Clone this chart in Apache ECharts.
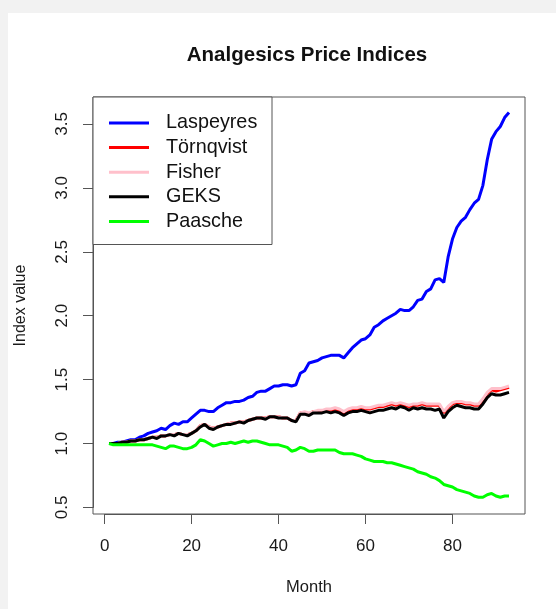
<!DOCTYPE html>
<html>
<head>
<meta charset="utf-8">
<script src="https://cdn.jsdelivr.net/npm/echarts@6/dist/echarts.min.js"></script>
<style>
html,body{margin:0;padding:0;background:#f2f2f2;}
#chart{width:556px;height:609px;}
</style>
</head>
<body>
<div id="chart"></div>
<script>
// ---- data ----
const months = Array.from({length: 93}, (_, i) => i + 1);
const seriesNames = ['Laspeyres', 'Törnqvist', 'Fisher', 'GEKS', 'Paasche'];
const laspeyres = [1.00,1.00,1.01,1.01,1.02,1.03,1.03,1.05,1.06,1.08,1.09,1.10,1.12,1.11,1.14,1.16,1.15,1.17,1.17,1.20,
  1.23,1.26,1.26,1.25,1.25,1.28,1.30,1.32,1.32,1.33,1.33,1.34,1.36,1.37,1.40,1.41,1.41,1.43,1.45,1.45,
  1.46,1.46,1.45,1.46,1.55,1.57,1.63,1.64,1.65,1.67,1.68,1.69,1.69,1.69,1.67,1.71,1.75,1.78,1.81,1.82,
  1.85,1.91,1.93,1.96,1.98,2.00,2.02,2.05,2.04,2.04,2.07,2.12,2.13,2.19,2.21,2.28,2.29,2.26,2.46,2.60,
  2.69,2.74,2.77,2.83,2.88,2.91,3.02,3.22,3.38,3.44,3.48,3.55,3.59];
const tornqvist = [1.00,1.00,1.00,1.01,1.01,1.02,1.02,1.03,1.03,1.04,1.05,1.05,1.06,1.06,1.07,1.07,1.08,1.07,1.07,1.08,
  1.10,1.14,1.15,1.13,1.12,1.13,1.14,1.15,1.16,1.16,1.17,1.17,1.18,1.19,1.20,1.20,1.20,1.21,1.21,1.21,
  1.20,1.20,1.18,1.18,1.24,1.24,1.23,1.25,1.25,1.25,1.26,1.26,1.27,1.26,1.24,1.26,1.27,1.27,1.28,1.27,
  1.27,1.28,1.29,1.29,1.30,1.31,1.30,1.31,1.30,1.29,1.30,1.30,1.31,1.30,1.30,1.30,1.30,1.24,1.28,1.31,
  1.32,1.32,1.31,1.31,1.30,1.30,1.34,1.39,1.42,1.41,1.42,1.43,1.44];
const fisher = [1.00,1.00,1.00,1.01,1.01,1.02,1.02,1.03,1.03,1.04,1.05,1.05,1.06,1.06,1.07,1.07,1.08,1.07,1.07,1.08,
  1.10,1.14,1.15,1.13,1.12,1.13,1.14,1.15,1.16,1.16,1.17,1.17,1.18,1.19,1.20,1.20,1.20,1.21,1.21,1.21,
  1.20,1.20,1.18,1.18,1.24,1.25,1.24,1.25,1.26,1.26,1.27,1.27,1.28,1.27,1.25,1.27,1.28,1.28,1.29,1.28,
  1.28,1.29,1.30,1.30,1.31,1.32,1.31,1.32,1.31,1.30,1.31,1.31,1.32,1.31,1.31,1.31,1.31,1.25,1.29,1.32,
  1.33,1.33,1.32,1.32,1.31,1.31,1.35,1.40,1.43,1.43,1.43,1.44,1.45];
const geks = [1.00,1.00,1.00,1.01,1.01,1.02,1.02,1.03,1.03,1.04,1.05,1.04,1.06,1.06,1.07,1.06,1.08,1.07,1.06,1.08,
  1.10,1.13,1.15,1.12,1.11,1.13,1.14,1.15,1.15,1.16,1.17,1.16,1.18,1.19,1.20,1.20,1.19,1.21,1.21,1.20,
  1.20,1.20,1.18,1.17,1.23,1.23,1.22,1.24,1.24,1.24,1.25,1.24,1.25,1.24,1.22,1.24,1.25,1.25,1.26,1.25,
  1.24,1.25,1.26,1.26,1.27,1.28,1.27,1.29,1.28,1.26,1.28,1.27,1.28,1.27,1.27,1.26,1.27,1.20,1.25,1.28,
  1.30,1.29,1.28,1.28,1.27,1.27,1.31,1.36,1.39,1.38,1.38,1.39,1.40];
const paasche = [1.00,0.99,0.99,0.99,0.99,0.99,0.99,0.99,0.99,0.99,0.99,0.98,0.97,0.96,0.98,0.98,0.97,0.96,0.96,0.97,
  0.99,1.03,1.02,1.00,0.98,0.99,1.00,1.00,1.01,1.00,1.01,1.02,1.01,1.02,1.02,1.01,1.00,0.99,0.99,0.99,
  0.98,0.97,0.94,0.95,0.97,0.96,0.94,0.94,0.95,0.95,0.95,0.95,0.95,0.93,0.92,0.92,0.92,0.91,0.90,0.88,
  0.87,0.86,0.86,0.86,0.85,0.85,0.84,0.83,0.82,0.81,0.80,0.78,0.77,0.76,0.74,0.73,0.71,0.68,0.67,0.66,
  0.64,0.63,0.62,0.61,0.59,0.58,0.58,0.60,0.61,0.59,0.58,0.59,0.59];
const xTicks = [0, 20, 40, 60, 80];
const yTicks = [0.5, 1.0, 1.5, 2.0, 2.5, 3.0, 3.5];
const titleText = 'Analgesics Price Indices';
const xLabel = 'Month';
const yLabel = 'Index value';

// ---- layout ----
const W = 556, H = 609;
const plotL = 93, plotR = 525, plotT = 97, plotB = 514;
const xMin = -2.68, xMax = 96.68;
const yMin = 0.449, yMax = 3.711;
const px = v => plotL + (v - xMin) / (xMax - xMin) * (plotR - plotL);
const py = v => plotB - (v - yMin) / (yMax - yMin) * (plotB - plotT);
const ax0 = px(xTicks[0]), ax1 = px(xTicks[xTicks.length - 1]);
const ay0 = py(yTicks[yTicks.length - 1]), ay1 = py(yTicks[0]);

const colors = ['#0000ff', '#ff0000', '#ffc0cb', '#000000', '#00ff00'];
const values = [laspeyres, tornqvist, fisher, geks, paasche];
const boxColor = '#555';
const textColor = '#1a1a1a';
const fontFam = 'Liberation Sans, Arial, sans-serif';

const chart = echarts.init(document.getElementById('chart'), null, {renderer: 'canvas'});
chart.setOption({
  animation: false,
  backgroundColor: '#f2f2f2',
  title: {
    text: titleText,
    left: (plotL + plotR) / 2 - 2,
    top: 45,
    padding: 0,
    textAlign: 'center',
    textStyle: {fontFamily: fontFam, fontSize: 20.5, fontWeight: 'bold', color: '#111'}
  },
  graphic: [
    {type: 'rect', z: -10, shape: {x: 8, y: 13, width: W - 8, height: H - 13}, style: {fill: '#ffffff'}},
    {type: 'rect', z: 5, shape: {x: plotL, y: plotT, width: 179, height: 147.5}, style: {fill: '#ffffff', stroke: boxColor, lineWidth: 1}}
  ],
  legend: {
    data: seriesNames,
    orient: 'vertical',
    left: 109,
    top: 113,
    padding: 0,
    itemGap: 4.6,
    itemWidth: 40,
    itemHeight: 3,
    icon: 'rect',
    z: 6,
    textStyle: {fontFamily: fontFam, fontSize: 19.8, color: '#111', lineHeight: 20, padding: [0, 0, 0, 12]}
  },
  grid: [
    {left: plotL, top: plotT, width: plotR - plotL, height: plotB - plotT, show: true,
     borderColor: boxColor, borderWidth: 1, backgroundColor: 'transparent', containLabel: false},
    {left: ax0, top: ay0, width: ax1 - ax0, height: ay1 - ay0, show: false}
  ],
  xAxis: [
    {type: 'value', gridIndex: 0, min: xMin, max: xMax,
     axisLine: {show: false, onZero: false}, axisTick: {show: false}, axisLabel: {show: false}, splitLine: {show: false},
     name: xLabel, nameLocation: 'middle', nameGap: 65,
     nameTextStyle: {fontFamily: fontFam, fontSize: 16.5, color: textColor}},
    {type: 'value', gridIndex: 1, min: 0, max: 80, interval: 20, position: 'bottom',
     offset: plotB - ay1,
     axisLine: {show: true, onZero: false, lineStyle: {color: boxColor, width: 1}},
     axisTick: {show: true, inside: false, length: 10, lineStyle: {color: boxColor, width: 1}},
     axisLabel: {show: true, margin: 24, fontFamily: fontFam, fontSize: 17, color: textColor},
     splitLine: {show: false}}
  ],
  yAxis: [
    {type: 'value', gridIndex: 0, min: yMin, max: yMax,
     axisLine: {show: false, onZero: false}, axisTick: {show: false}, axisLabel: {show: false}, splitLine: {show: false},
     name: yLabel, nameLocation: 'middle', nameGap: 64, nameRotate: 90,
     nameTextStyle: {fontFamily: fontFam, fontSize: 16, color: textColor}},
    {type: 'value', gridIndex: 1, min: 0.5, max: 3.5, interval: 0.5, position: 'left',
     offset: ax0 - plotL,
     axisLine: {show: true, onZero: false, lineStyle: {color: boxColor, width: 1}},
     axisTick: {show: true, inside: false, length: 10, lineStyle: {color: boxColor, width: 1}},
     axisLabel: {show: true, rotate: 90, margin: 22, fontFamily: fontFam, fontSize: 17, color: textColor,
       formatter: v => v.toFixed(1)},
     splitLine: {show: false}}
  ],
  series: seriesNames.map((name, i) => ({
    name: name,
    type: 'line',
    xAxisIndex: 0,
    yAxisIndex: 0,
    data: months.map((m, j) => [m, values[i][j]]),
    showSymbol: false,
    symbol: 'none',
    color: colors[i],
    lineStyle: {color: colors[i], width: 3},
    z: 2 + i,
    silent: true
  }))
});
</script>
</body>
</html>
